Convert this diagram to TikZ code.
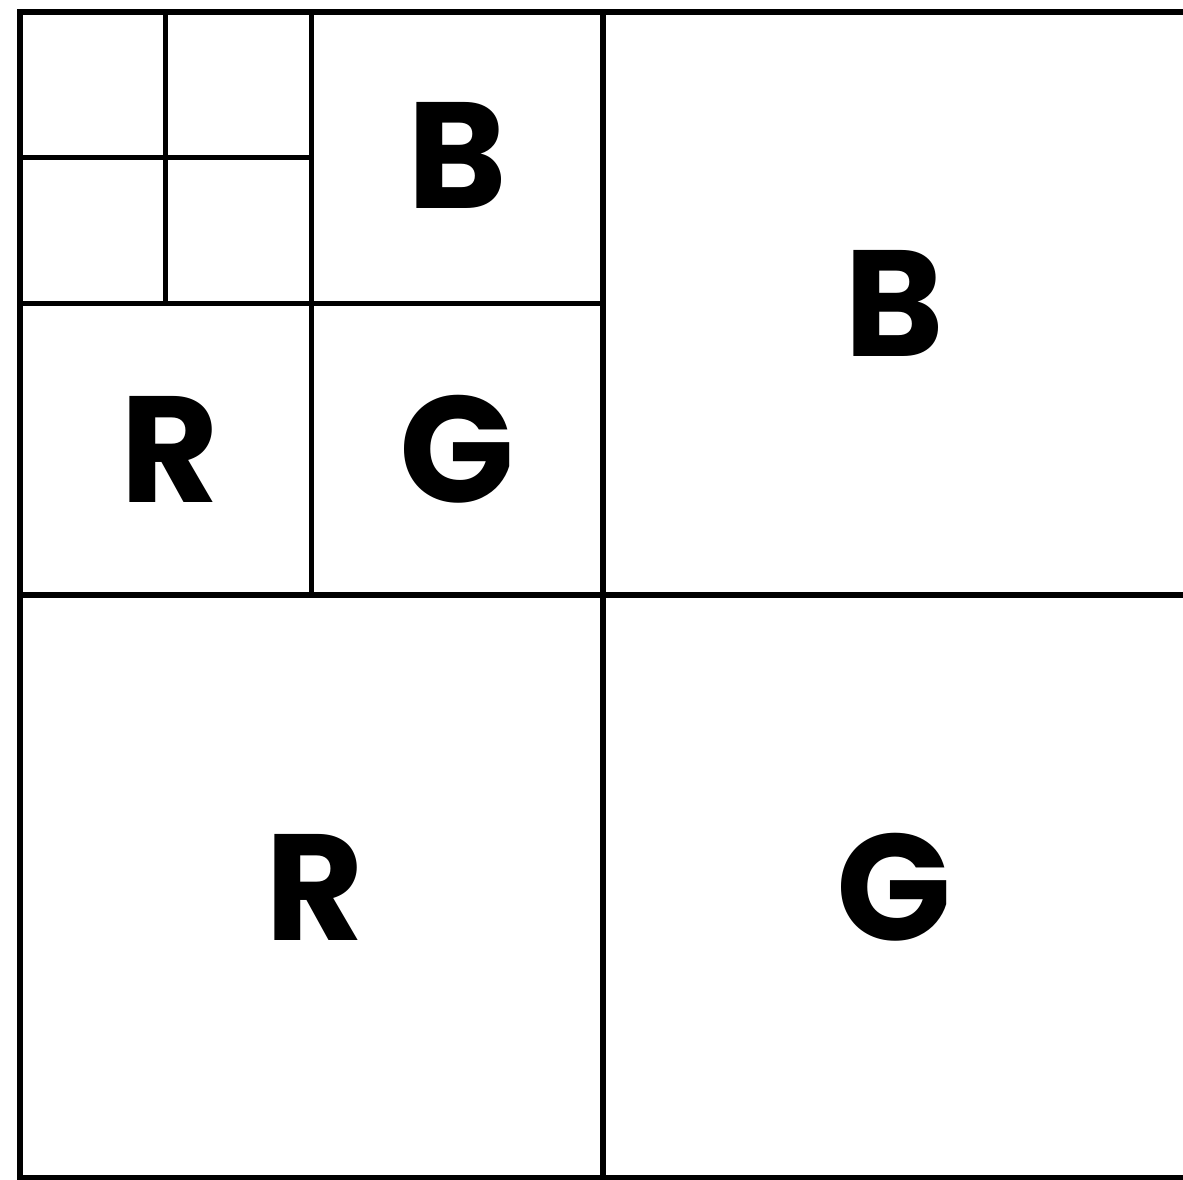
\documentclass[tikz,border=0pt]{standalone}
\usepackage{fontspec}
\newfontfamily\cellfont{Poppins}
\usetikzlibrary{positioning}
\tikzset{
  gridline/.style={line width=1.5pt,black},
  cellmark/.style={font=\cellfont\bfseries\fontsize{43}{43}\selectfont,
    inner sep=0pt,text height=1.07cm,text depth=0pt,anchor=center}
}

\begin{document}
\begin{tikzpicture}[x=1.4575cm,y=1.4575cm]
    \useasboundingbox (-0.137,-0.007) rectangle (7.979,8.082);
    \clip (-0.137,-0.007) rectangle (7.979,8.082);
    % quadrants
    \draw[gridline] (0,0) rectangle (8,8);
    \draw[gridline] (4,0) -- (4,8);
    \draw[gridline] (0,4) -- (8,4);
    % split of the upper left quadrant
    \draw[gridline] (2,4) -- (2,8);
    \draw[gridline] (0,6) -- (4,6);
    \draw[gridline] (1,6) -- (1,8);
    \draw[gridline] (0,7) -- (2,7);
    % labels
    \node[cellmark] (bsmall) at (3,7.02) {B};
    \node[cellmark] (rsmall) at (1.03,5) {R};
    \node[cellmark] (gsmall) at (3,5) {G};
    \node[cellmark] (blarge) at (6,6) {B};
    \node[cellmark] (rlarge) at (2.02,2) {R};
    \node[cellmark] (glarge) at (6,2) {G};
  \end{tikzpicture}
\end{document}
